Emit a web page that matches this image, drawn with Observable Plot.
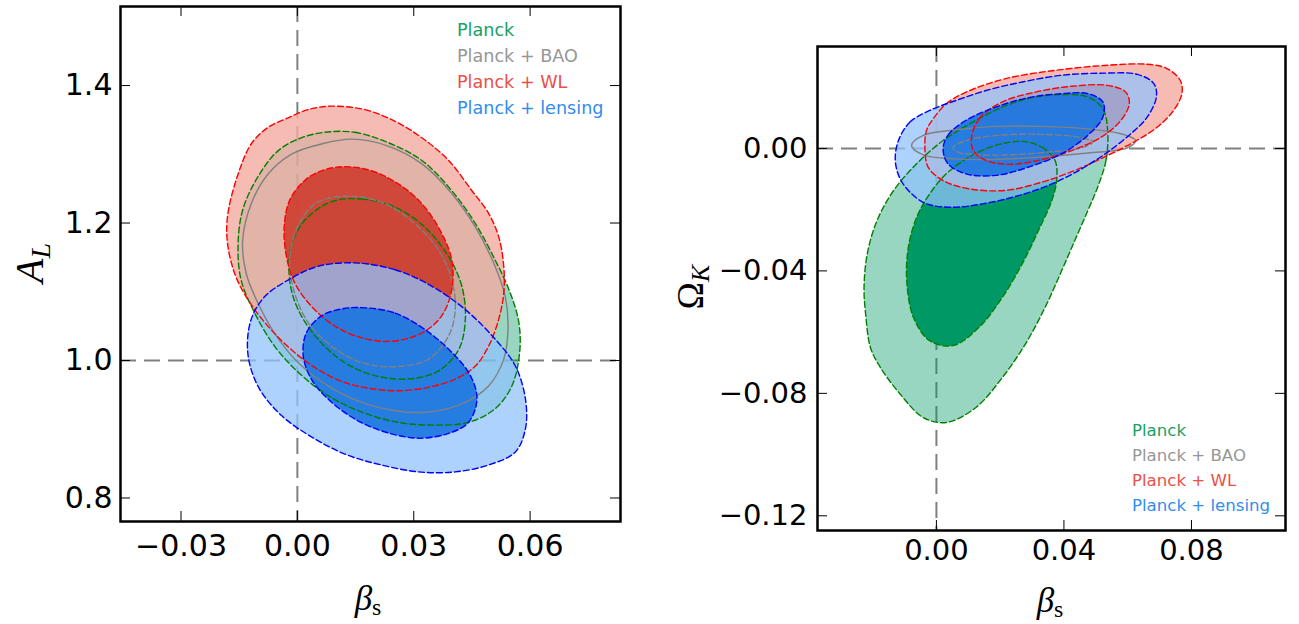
<!DOCTYPE html>
<html><head><meta charset="utf-8">
<script src="https://cdn.jsdelivr.net/npm/d3@7"></script>
<script src="https://cdn.jsdelivr.net/npm/@observablehq/plot@0.6"></script>
<style>
html,body{margin:0;padding:0;background:#fff;}
#wrap{position:relative;width:1299px;height:624px;overflow:hidden;font-family:"DejaVu Sans",sans-serif;}
.panel{position:absolute;top:0;}
.lab{position:absolute;font-family:"Liberation Serif",serif;color:#000;white-space:nowrap;line-height:1;}
.legend{position:absolute;font-family:"DejaVu Sans",sans-serif;white-space:nowrap;}
</style></head><body><div id="wrap"></div>
<script>
// ---------- data ----------
const seriesNames = ["Planck", "Planck + BAO", "Planck + WL", "Planck + lensing"];
const leftXTicks = [-0.03, 0.00, 0.03, 0.06];
const leftYTicks = [0.8, 1.0, 1.2, 1.4];
const rightXTicks = [0.00, 0.04, 0.08];
const rightYTicks = [-0.12, -0.08, -0.04, 0.00];
const leftRefX = [0], leftRefY = [1.0];
const rightRefX = [0], rightRefY = [0];

// Left panel (beta_s, A_L) contours: [beta_s, A_L]
const leftPlanck95 = [[0.0071,1.332],[0.0148,1.332],[0.0234,1.317],[0.0321,1.291],[0.0398,1.247],[0.0459,1.199],[0.0510,1.146],[0.0549,1.098],[0.0571,1.055],[0.0573,1.012],[0.0553,0.963],[0.0510,0.930],[0.0441,0.910],[0.0355,0.906],[0.0260,0.910],[0.0166,0.925],[0.0079,0.949],[0.0002,0.983],[-0.0059,1.021],[-0.0110,1.069],[-0.0145,1.117],[-0.0153,1.166],[-0.0141,1.219],[-0.0102,1.267],[-0.0050,1.305],[0.0010,1.324]];
const leftPlanck68 = [[0.0088,1.231],[0.0166,1.235],[0.0252,1.223],[0.0329,1.194],[0.0390,1.151],[0.0424,1.108],[0.0433,1.060],[0.0416,1.016],[0.0364,0.985],[0.0286,0.973],[0.0200,0.978],[0.0122,0.997],[0.0053,1.031],[0.0002,1.074],[-0.0020,1.117],[-0.0016,1.166],[0.0019,1.204]];
const leftBAO95 = [[0.0062,1.315],[0.0140,1.322],[0.0234,1.312],[0.0321,1.286],[0.0398,1.243],[0.0459,1.194],[0.0506,1.142],[0.0536,1.093],[0.0543,1.045],[0.0532,1.002],[0.0493,0.963],[0.0424,0.937],[0.0338,0.925],[0.0252,0.927],[0.0166,0.939],[0.0079,0.963],[0.0002,0.997],[-0.0059,1.040],[-0.0102,1.084],[-0.0132,1.127],[-0.0141,1.175],[-0.0119,1.228],[-0.0076,1.271],[-0.0016,1.300]];
const leftBAO68 = [[0.0062,1.233],[0.0140,1.239],[0.0226,1.228],[0.0303,1.199],[0.0364,1.161],[0.0398,1.117],[0.0407,1.074],[0.0390,1.036],[0.0338,1.002],[0.0252,0.991],[0.0166,0.997],[0.0088,1.021],[0.0028,1.055],[-0.0007,1.098],[-0.0020,1.146],[-0.0003,1.190],[0.0028,1.219]];
const leftWL95 = [[0.0088,1.370],[0.0174,1.365],[0.0252,1.348],[0.0321,1.324],[0.0390,1.291],[0.0450,1.247],[0.0493,1.214],[0.0519,1.180],[0.0532,1.137],[0.0532,1.098],[0.0519,1.060],[0.0493,1.021],[0.0459,0.992],[0.0407,0.973],[0.0338,0.961],[0.0260,0.956],[0.0191,0.959],[0.0122,0.968],[0.0053,0.987],[-0.0016,1.016],[-0.0076,1.050],[-0.0128,1.089],[-0.0162,1.127],[-0.0181,1.175],[-0.0179,1.214],[-0.0153,1.271],[-0.0119,1.315],[-0.0076,1.339],[-0.0024,1.353],[0.0028,1.365]];
const leftWL68 = [[0.0122,1.282],[0.0191,1.276],[0.0260,1.257],[0.0321,1.228],[0.0372,1.185],[0.0398,1.146],[0.0398,1.103],[0.0372,1.065],[0.0321,1.040],[0.0243,1.028],[0.0166,1.033],[0.0097,1.050],[0.0036,1.079],[-0.0007,1.113],[-0.0028,1.151],[-0.0034,1.194],[-0.0020,1.233],[0.0019,1.262],[0.0062,1.276]];
const leftLens95 = [[0.0148,1.142],[0.0252,1.132],[0.0347,1.108],[0.0433,1.074],[0.0510,1.031],[0.0562,0.992],[0.0588,0.944],[0.0588,0.901],[0.0562,0.867],[0.0493,0.848],[0.0407,0.838],[0.0312,0.838],[0.0217,0.848],[0.0131,0.862],[0.0045,0.886],[-0.0041,0.920],[-0.0102,0.963],[-0.0128,1.012],[-0.0119,1.060],[-0.0084,1.093],[-0.0024,1.117],[0.0053,1.137]];
const leftLens68 = [[0.0166,1.077],[0.0252,1.069],[0.0329,1.045],[0.0398,1.012],[0.0446,0.978],[0.0463,0.944],[0.0441,0.910],[0.0390,0.894],[0.0312,0.887],[0.0226,0.896],[0.0148,0.915],[0.0079,0.944],[0.0036,0.973],[0.0015,1.007],[0.0023,1.040],[0.0062,1.065],[0.0114,1.075]];

// Right panel (beta_s, Omega_K) contours: [beta_s, Omega_K]
const rightPlanck95 = [[0.0537,0.0059],[0.0532,-0.0039],[0.0506,-0.0126],[0.0475,-0.0203],[0.0434,-0.0301],[0.0393,-0.0399],[0.0341,-0.0519],[0.0279,-0.0639],[0.0207,-0.0748],[0.0124,-0.0846],[0.0031,-0.0895],[-0.0041,-0.0879],[-0.0114,-0.0802],[-0.0176,-0.0715],[-0.0207,-0.0650],[-0.0222,-0.0541],[-0.0227,-0.0454],[-0.0217,-0.0345],[-0.0186,-0.0235],[-0.0134,-0.0137],[-0.0062,-0.0050],[0.0021,0.0026],[0.0114,0.0086],[0.0207,0.0135],[0.0300,0.0166],[0.0393,0.0176],[0.0475,0.0168],[0.0522,0.0130]];
const rightPlanck68 = [[0.0269,0.0023],[0.0331,0.0004],[0.0372,-0.0039],[0.0377,-0.0105],[0.0362,-0.0170],[0.0320,-0.0268],[0.0269,-0.0377],[0.0207,-0.0486],[0.0134,-0.0584],[0.0052,-0.0644],[-0.0021,-0.0628],[-0.0072,-0.0552],[-0.0093,-0.0432],[-0.0088,-0.0323],[-0.0062,-0.0225],[-0.0021,-0.0148],[0.0031,-0.0083],[0.0103,-0.0028],[0.0186,0.0010]];
const rightBAO95 = [[-0.0078,0.0010],[-0.0041,0.0043],[0.0062,0.0061],[0.0186,0.0072],[0.0331,0.0072],[0.0475,0.0064],[0.0579,0.0048],[0.0625,0.0026],[0.0599,0.0002],[0.0475,-0.0015],[0.0331,-0.0028],[0.0186,-0.0036],[0.0062,-0.0034],[-0.0041,-0.0021]];
const rightBAO68 = [[0.0052,0.0002],[0.0093,0.0026],[0.0196,0.0043],[0.0331,0.0046],[0.0444,0.0037],[0.0491,0.0021],[0.0455,0.0002],[0.0351,-0.0012],[0.0227,-0.0021],[0.0124,-0.0020],[0.0067,-0.0012]];
const rightWL95 = [[-0.0010,0.0097],[0.0031,0.0146],[0.0093,0.0184],[0.0217,0.0228],[0.0372,0.0255],[0.0527,0.0271],[0.0661,0.0275],[0.0723,0.0261],[0.0765,0.0222],[0.0770,0.0179],[0.0744,0.0124],[0.0693,0.0070],[0.0620,0.0021],[0.0537,-0.0023],[0.0434,-0.0072],[0.0331,-0.0110],[0.0217,-0.0137],[0.0103,-0.0132],[0.0021,-0.0105],[-0.0026,-0.0061],[-0.0036,-0.0001],[-0.0031,0.0059]];
const rightWL68 = [[0.0109,0.0026],[0.0134,0.0097],[0.0207,0.0152],[0.0310,0.0184],[0.0424,0.0203],[0.0537,0.0206],[0.0594,0.0184],[0.0605,0.0146],[0.0579,0.0092],[0.0517,0.0037],[0.0424,-0.0007],[0.0320,-0.0039],[0.0227,-0.0052],[0.0155,-0.0039],[0.0119,-0.0012]];
const rightLens95 = [[-0.0119,0.0026],[-0.0083,0.0086],[-0.0021,0.0124],[0.0062,0.0157],[0.0165,0.0192],[0.0269,0.0217],[0.0393,0.0239],[0.0527,0.0246],[0.0630,0.0242],[0.0682,0.0212],[0.0690,0.0168],[0.0661,0.0102],[0.0610,0.0048],[0.0537,-0.0012],[0.0455,-0.0067],[0.0362,-0.0116],[0.0258,-0.0154],[0.0145,-0.0181],[0.0052,-0.0192],[-0.0031,-0.0181],[-0.0078,-0.0148],[-0.0114,-0.0099],[-0.0129,-0.0039]];
const rightLens68 = [[0.0021,-0.0001],[0.0036,0.0043],[0.0093,0.0092],[0.0186,0.0135],[0.0289,0.0166],[0.0393,0.0179],[0.0475,0.0179],[0.0522,0.0152],[0.0522,0.0102],[0.0475,0.0043],[0.0393,-0.0017],[0.0289,-0.0061],[0.0186,-0.0088],[0.0093,-0.0083],[0.0036,-0.0050]];

// ---------- styles ----------
const S = {
  planck: {f95:"#009966", o95:0.4, f68:"#009966", o68:1.0, line:"#008000", text:"#19a064"},
  bao:    {line:"#808080", text:"#969696"},
  wl:     {f95:"#f4aaa0", o95:0.8, f68:"#cd3c2d", o68:0.9, line:"#ff0000", text:"#eb5046"},
  lens:   {f95:"#91c3fc", o95:0.75, f68:"#1a74df", o68:0.9, line:"#0000ff", text:"#328cf0"}
};
const dash = "6,3";
const P = d => d[0], Q = d => d[1];
const fillM = (pts, fill, op) => Plot.line(pts, {x:P, y:Q, curve:"catmull-rom-closed", fill, fillOpacity:op, stroke:"none"});
const lineM = (pts, stroke, da) => Plot.line(pts, {x:P, y:Q, curve:"catmull-rom-closed", stroke, strokeWidth:1.4, strokeDasharray:da, fill:"none"});

function panel(cfg) {
  const pw = cfg.width - cfg.ml - cfg.mr, ph = cfg.height - cfg.mt - cfg.mb, tl = 10;
  const c = cfg.c;
  return Plot.plot({
    width: cfg.width, height: cfg.height,
    marginLeft: cfg.ml, marginRight: cfg.mr, marginTop: cfg.mt, marginBottom: cfg.mb,
    style: {fontFamily: "DejaVu Sans", fontSize: cfg.fs + "px", color: "#000", background: "transparent", overflow: "visible"},
    x: {domain: cfg.xd, label: null},
    y: {domain: cfg.yd, label: null},
    marks: [
      Plot.ruleX(cfg.refX, {stroke:"#808080", strokeWidth:2, strokeDasharray:"16,8"}),
      Plot.ruleY(cfg.refY, {stroke:"#808080", strokeWidth:2, strokeDasharray:"16,8"}),
      fillM(c.planck95, S.planck.f95, S.planck.o95),
      fillM(c.planck68, S.planck.f68, S.planck.o68),
      fillM(c.wl95, S.wl.f95, S.wl.o95),
      fillM(c.wl68, S.wl.f68, S.wl.o68),
      fillM(c.lens95, S.lens.f95, S.lens.o95),
      fillM(c.lens68, S.lens.f68, S.lens.o68),
      lineM(c.planck95, S.planck.line, dash),
      lineM(c.planck68, S.planck.line, dash),
      lineM(c.bao95, S.bao.line, null),
      lineM(c.bao68, S.bao.line, dash),
      lineM(c.wl95, S.wl.line, dash),
      lineM(c.wl68, S.wl.line, dash),
      lineM(c.lens95, S.lens.line, dash),
      lineM(c.lens68, S.lens.line, dash),
      Plot.gridX(cfg.xt, {stroke:"#000", strokeOpacity:1, strokeWidth:1, insetTop: ph - tl}),
      Plot.gridX(cfg.xt, {stroke:"#000", strokeOpacity:1, strokeWidth:1, insetBottom: ph - tl}),
      Plot.gridY(cfg.yt, {stroke:"#000", strokeOpacity:1, strokeWidth:1, insetRight: pw - tl}),
      Plot.gridY(cfg.yt, {stroke:"#000", strokeOpacity:1, strokeWidth:1, insetLeft: pw - tl}),
      Plot.axisX(cfg.xt, {anchor:"bottom", tickSize:0, tickPadding:cfg.xpad, tickFormat:d3.format(".2f"), fontSize:cfg.fs, label:null}),
      Plot.axisY(cfg.yt, {anchor:"left", tickSize:0, tickPadding:cfg.ypad, tickFormat:d3.format(cfg.yfmt), fontSize:cfg.fs, label:null}),
      Plot.frame({stroke:"#000", strokeWidth:2.5})
    ]
  });
}

const wrap = document.getElementById("wrap");

const left = panel({
  width:650, height:624, ml:120, mr:30, mt:6, mb:103, fs:30, xpad:13, ypad:8, yfmt:".1f",
  xd:[-0.0456, 0.0833], yd:[0.7658, 1.515], xt:leftXTicks, yt:leftYTicks, refX:leftRefX, refY:leftRefY,
  c:{planck95:leftPlanck95, planck68:leftPlanck68, bao95:leftBAO95, bao68:leftBAO68, wl95:leftWL95, wl68:leftWL68, lens95:leftLens95, lens68:leftLens68}
});
left.classList.add("panel"); left.style.left = "0px";
wrap.appendChild(left);

const right = panel({
  width:649, height:624, ml:167, mr:14, mt:46, mb:94, fs:29, xpad:9, ypad:10, yfmt:".2f",
  xd:[-0.0373, 0.1095], yd:[-0.1248, 0.0333], xt:rightXTicks, yt:rightYTicks, refX:rightRefX, refY:rightRefY,
  c:{planck95:rightPlanck95, planck68:rightPlanck68, bao95:rightBAO95, bao68:rightBAO68, wl95:rightWL95, wl68:rightWL68, lens95:rightLens95, lens68:rightLens68}
});
right.classList.add("panel"); right.style.left = "650px";
wrap.appendChild(right);

// ---------- axis labels ----------
function addLabel(html, x, y, size, rot) {
  const d = document.createElement("div");
  d.className = "lab";
  d.style.left = x + "px"; d.style.top = y + "px"; d.style.fontSize = size + "px";
  d.style.transform = "translate(-50%,-50%)" + (rot ? " rotate(-90deg)" : "");
  d.innerHTML = html;
  wrap.appendChild(d);
}
const betaS = '<i>β</i><span style="font-size:0.68em;position:relative;top:0.22em">s</span>';
addLabel(betaS, 368, 598, 35, false);
addLabel(betaS, 1050, 600, 35, false);
addLabel('<i>A</i><i style="font-size:0.7em;position:relative;top:0.25em">L</i>', 30, 263, 40, true);
addLabel('Ω<i style="font-size:0.7em;position:relative;top:0.25em">K</i>', 690, 287, 37, true);

// ---------- legends ----------
const legColors = [S.planck.text, S.bao.text, S.wl.text, S.lens.text];
function addLegend(x, y, size, lh) {
  const d = document.createElement("div");
  d.className = "legend";
  d.style.left = x + "px"; d.style.top = y + "px"; d.style.fontSize = size + "px"; d.style.lineHeight = lh + "px";
  seriesNames.forEach((n, i) => {
    const r = document.createElement("div");
    r.textContent = n; r.style.color = legColors[i];
    d.appendChild(r);
  });
  wrap.appendChild(d);
}
addLegend(457, 17, 17.6, 26);
addLegend(1132, 418, 16.6, 25);
</script></body></html>
